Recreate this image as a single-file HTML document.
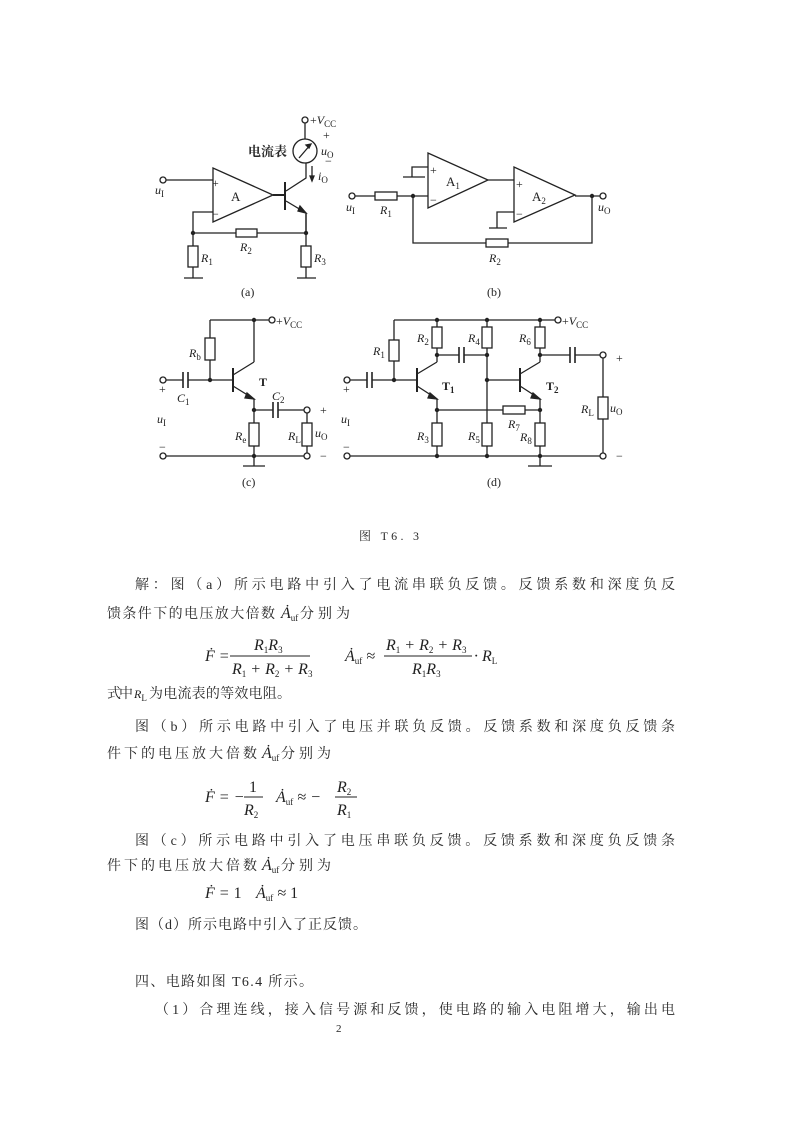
<!DOCTYPE html>
<html><head><meta charset="utf-8"><style>
html,body{margin:0;padding:0;background:#fff}
svg{display:block}
.t{font-family:"Liberation Serif","Noto Serif CJK SC","Noto Sans CJK SC",serif;font-size:14px;fill:#2a2a2a}
.m{font-family:"Liberation Serif",serif;font-style:italic;font-size:16px;fill:#222}
.l{font-family:"Liberation Serif",serif;font-style:italic;font-size:12px;fill:#222}
.s{font-family:"Liberation Serif",serif;font-style:normal;font-size:9px;fill:#222;baseline-shift:-3px}
.n{font-family:"Liberation Serif",serif;font-size:12px;fill:#222}
</style></head><body>
<svg width="794" height="1122" viewBox="0 0 794 1122" xmlns="http://www.w3.org/2000/svg">
<g stroke="#222" stroke-width="1.3" fill="none">
<!-- (a) -->
<circle cx="163" cy="180" r="3" fill="#fff"/>
<path d="M166 180H213"/>
<path d="M213 168V222L273 195Z"/>
<path d="M213 212H193V278M193 233H306M306 214V278"/>
<rect x="236" y="229" width="21" height="8" fill="#fff"/>
<rect x="188" y="246" width="10" height="21" fill="#fff"/>
<rect x="301" y="246" width="10" height="21" fill="#fff"/>
<path d="M184 278H203M297 278H316"/>
<path d="M273 195H285M285 182V210" stroke-width="2"/>
<path d="M286 191L306 178V163M286 201L306 213V233"/>
<path d="M300 206L306 213L298 211Z" fill="#222"/>
<circle cx="305" cy="151" r="12"/>
<path d="M305 139V123M299 158L311 144"/>
<path d="M311 144l-5 1 3 3z" fill="#222"/>
<circle cx="305" cy="120" r="3" fill="#fff"/>
<path d="M312 166V180"/><path d="M310 176l2 5 2-5z" fill="#222"/>
<!-- (b) -->
<circle cx="352" cy="196" r="3" fill="#fff"/>
<path d="M355 196H428M413 196V243H592V196M575 196H600"/>
<rect x="375" y="192" width="22" height="8" fill="#fff"/>
<rect x="486" y="239" width="22" height="8" fill="#fff"/>
<path d="M428 153V208L488 180Z"/>
<path d="M514 167V222L575 195Z"/>
<path d="M488 180H514M428 167H412V177M403 177H425M514 212H497V228M489 228H507"/>
<circle cx="603" cy="196" r="3" fill="#fff"/>
<!-- (c) -->
<path d="M210 320H269M210 320V380M166 380H183M188 380H233M254 320V362M233 375L254 362M233 386L254 399V456M254 410H273M278 410H304M307 413V453M166 456H304M243 466H265M254 456V466"/>
<path d="M183 372V388M188 372V388M273 402V418M278 402V418" stroke-width="1.6"/>
<path d="M233 368V392" stroke-width="2"/>
<path d="M247 393l7 6-9-1z" fill="#222"/>
<rect x="205" y="338" width="10" height="22" fill="#fff"/>
<rect x="249" y="423" width="10" height="23" fill="#fff"/>
<rect x="302" y="423" width="10" height="23" fill="#fff"/>
<circle cx="272" cy="320" r="3" fill="#fff"/>
<circle cx="163" cy="380" r="3" fill="#fff"/>
<circle cx="307" cy="410" r="3" fill="#fff"/>
<circle cx="163" cy="456" r="3" fill="#fff"/>
<circle cx="307" cy="456" r="3" fill="#fff"/>
<!-- (d) -->
<path d="M394 320H555M394 320V380M350 380H367M372 380H417M437 320V362M487 320V456M540 320V362M437 355H459M464 355H487M540 355H570M575 355H600M603 358V453M417 374L437 362M417 386L437 399V456M437 410H540M487 380H520M520 374L540 362M520 386L540 399V456M350 456H600M528 466H552M540 456V466"/>
<path d="M367 372V388M372 372V388M459 347V363M464 347V363M570 347V363M575 347V363" stroke-width="1.6"/>
<path d="M417 368V392M520 368V392" stroke-width="2"/>
<path d="M430 393l7 6-9-1zM533 393l7 6-9-1z" fill="#222"/>
<rect x="389" y="340" width="10" height="21" fill="#fff"/>
<rect x="432" y="327" width="10" height="21" fill="#fff"/>
<rect x="482" y="327" width="10" height="21" fill="#fff"/>
<rect x="535" y="327" width="10" height="21" fill="#fff"/>
<rect x="503" y="406" width="22" height="8" fill="#fff"/>
<rect x="432" y="423" width="10" height="23" fill="#fff"/>
<rect x="482" y="423" width="10" height="23" fill="#fff"/>
<rect x="535" y="423" width="10" height="23" fill="#fff"/>
<rect x="598" y="397" width="10" height="22" fill="#fff"/>
<circle cx="558" cy="320" r="3" fill="#fff"/>
<circle cx="347" cy="380" r="3" fill="#fff"/>
<circle cx="347" cy="456" r="3" fill="#fff"/>
<circle cx="603" cy="355" r="3" fill="#fff"/>
<circle cx="603" cy="456" r="3" fill="#fff"/>
<!-- fraction lines -->
<path d="M230 656H310M384 656H472M244 797H263M335 797H357" stroke-width="1"/>
</g>
<g fill="#222">
<circle cx="193" cy="233" r="2.2"/><circle cx="306" cy="233" r="2.2"/>
<circle cx="413" cy="196" r="2.2"/><circle cx="592" cy="196" r="2.2"/>
<circle cx="254" cy="320" r="2.2"/><circle cx="210" cy="380" r="2.2"/><circle cx="254" cy="410" r="2.2"/><circle cx="254" cy="456" r="2.2"/>
<circle cx="437" cy="320" r="2.2"/><circle cx="487" cy="320" r="2.2"/><circle cx="540" cy="320" r="2.2"/>
<circle cx="394" cy="380" r="2.2"/><circle cx="437" cy="355" r="2.2"/><circle cx="487" cy="355" r="2.2"/><circle cx="540" cy="355" r="2.2"/>
<circle cx="487" cy="380" r="2.2"/><circle cx="437" cy="410" r="2.2"/><circle cx="540" cy="410" r="2.2"/>
<circle cx="437" cy="456" r="2.2"/><circle cx="487" cy="456" r="2.2"/><circle cx="540" cy="456" r="2.2"/>
</g>
<!-- circuit labels -->
<text class="t" x="248" y="156" style="font-weight:bold;font-size:13px">电流表</text>
<text class="n" x="310" y="124">+<tspan class="l">V</tspan><tspan class="s">CC</tspan></text>
<text class="n" x="323" y="139">+</text><text class="l" x="321" y="155">u<tspan class="s">O</tspan></text><text class="n" x="325" y="165">−</text>
<text class="l" x="318" y="180">i<tspan class="s">O</tspan></text>
<text class="n" x="212" y="187">+</text><text class="n" x="212" y="218">−</text>
<text class="n" x="231" y="201" style="font-size:13px">A</text>
<text class="l" x="155" y="194">u<tspan class="s">I</tspan></text>
<text class="l" x="240" y="251">R<tspan class="s">2</tspan></text>
<text class="l" x="201" y="262">R<tspan class="s">1</tspan></text>
<text class="l" x="314" y="262">R<tspan class="s">3</tspan></text>
<text class="n" x="241" y="296">(a)</text>
<text class="n" x="430" y="174">+</text><text class="n" x="430" y="204">−</text>
<text class="n" x="446" y="186" style="font-size:13px">A<tspan class="s">1</tspan></text>
<text class="n" x="516" y="188">+</text><text class="n" x="516" y="218">−</text>
<text class="n" x="532" y="201" style="font-size:13px">A<tspan class="s">2</tspan></text>
<text class="l" x="346" y="211">u<tspan class="s">I</tspan></text>
<text class="l" x="380" y="214">R<tspan class="s">1</tspan></text>
<text class="l" x="489" y="262">R<tspan class="s">2</tspan></text>
<text class="l" x="598" y="211">u<tspan class="s">O</tspan></text>
<text class="n" x="487" y="296">(b)</text>
<text class="n" x="276" y="325">+<tspan class="l">V</tspan><tspan class="s">CC</tspan></text>
<text class="l" x="189" y="357">R<tspan class="s">b</tspan></text>
<text class="n" x="159" y="393">+</text>
<text class="l" x="177" y="402">C<tspan class="s">1</tspan></text>
<text class="n" x="259" y="386" style="font-weight:bold">T</text>
<text class="l" x="272" y="400">C<tspan class="s">2</tspan></text>
<text class="l" x="157" y="423">u<tspan class="s">I</tspan></text>
<text class="l" x="235" y="440">R<tspan class="s">e</tspan></text>
<text class="l" x="288" y="440">R<tspan class="s">L</tspan></text>
<text class="l" x="315" y="437">u<tspan class="s">O</tspan></text>
<text class="n" x="320" y="414">+</text><text class="n" x="320" y="460">−</text>
<text class="n" x="159" y="451">−</text>
<text class="n" x="242" y="486">(c)</text>
<text class="n" x="562" y="325">+<tspan class="l">V</tspan><tspan class="s">CC</tspan></text>
<text class="l" x="373" y="355">R<tspan class="s">1</tspan></text>
<text class="l" x="417" y="342">R<tspan class="s">2</tspan></text>
<text class="l" x="468" y="342">R<tspan class="s">4</tspan></text>
<text class="l" x="519" y="342">R<tspan class="s">6</tspan></text>
<text class="n" x="343" y="393">+</text>
<text class="n" x="442" y="390" style="font-weight:bold">T<tspan class="s">1</tspan></text>
<text class="n" x="546" y="390" style="font-weight:bold">T<tspan class="s">2</tspan></text>
<text class="l" x="341" y="423">u<tspan class="s">I</tspan></text>
<text class="l" x="417" y="440">R<tspan class="s">3</tspan></text>
<text class="l" x="468" y="440">R<tspan class="s">5</tspan></text>
<text class="l" x="508" y="428">R<tspan class="s">7</tspan></text>
<text class="l" x="520" y="441">R<tspan class="s">8</tspan></text>
<text class="l" x="581" y="413">R<tspan class="s">L</tspan></text>
<text class="l" x="610" y="412">u<tspan class="s">O</tspan></text>
<text class="n" x="616" y="362">+</text><text class="n" x="616" y="460">−</text>
<text class="n" x="343" y="451">−</text>
<text class="n" x="487" y="486">(d)</text>
<!-- body text -->
<text class="t" x="359" y="540" style="font-size:12px" textLength="60" lengthAdjust="spacing">图 T6. 3</text>
<text class="t" x="135" y="589" textLength="540" lengthAdjust="spacing">解：图（a）所示电路中引入了电流串联负反馈。反馈系数和深度负反</text>
<text class="t" x="107" y="618" textLength="168" lengthAdjust="spacing">馈条件下的电压放大倍数</text>
<text class="m" x="281" y="618">Ȧ<tspan class="s">uf</tspan></text>
<text class="t" x="300" y="618" textLength="50" lengthAdjust="spacing">分别为</text>
<text class="m" x="205" y="661">Ḟ =</text>
<text class="m" x="254" y="650">R<tspan class="s">1</tspan>R<tspan class="s">3</tspan></text>
<text class="m" x="232" y="674">R<tspan class="s">1</tspan> + R<tspan class="s">2</tspan> + R<tspan class="s">3</tspan></text>
<text class="m" x="345" y="661">Ȧ<tspan class="s">uf</tspan> ≈</text>
<text class="m" x="386" y="650">R<tspan class="s">1</tspan> + R<tspan class="s">2</tspan> + R<tspan class="s">3</tspan></text>
<text class="m" x="412" y="674">R<tspan class="s">1</tspan>R<tspan class="s">3</tspan></text>
<text class="m" x="474" y="661">· R<tspan class="s">L</tspan></text>
<text class="t" x="107" y="698" textLength="26" lengthAdjust="spacing">式中</text>
<text class="l" x="134" y="698">R<tspan class="s">L</tspan></text>
<text class="t" x="149" y="698" textLength="142" lengthAdjust="spacing">为电流表的等效电阻。</text>
<text class="t" x="135" y="731" textLength="540" lengthAdjust="spacing">图（b）所示电路中引入了电压并联负反馈。反馈系数和深度负反馈条</text>
<text class="t" x="107" y="758" textLength="150" lengthAdjust="spacing">件下的电压放大倍数</text>
<text class="m" x="262" y="758">Ȧ<tspan class="s">uf</tspan></text>
<text class="t" x="281" y="758" textLength="50" lengthAdjust="spacing">分别为</text>
<text class="m" x="205" y="802">Ḟ = −</text>
<text class="m" x="249" y="792" style="font-style:normal">1</text>
<text class="m" x="244" y="815">R<tspan class="s">2</tspan></text>
<text class="m" x="276" y="802">Ȧ<tspan class="s">uf</tspan> ≈ −</text>
<text class="m" x="337" y="792">R<tspan class="s">2</tspan></text>
<text class="m" x="337" y="815">R<tspan class="s">1</tspan></text>
<text class="t" x="135" y="845" textLength="540" lengthAdjust="spacing">图（c）所示电路中引入了电压串联负反馈。反馈系数和深度负反馈条</text>
<text class="t" x="107" y="870" textLength="150" lengthAdjust="spacing">件下的电压放大倍数</text>
<text class="m" x="262" y="870">Ȧ<tspan class="s">uf</tspan></text>
<text class="t" x="281" y="870" textLength="50" lengthAdjust="spacing">分别为</text>
<text class="m" x="205" y="898">Ḟ = <tspan style="font-style:normal">1</tspan></text>
<text class="m" x="256" y="898">Ȧ<tspan class="s">uf</tspan> ≈ <tspan style="font-style:normal">1</tspan></text>
<text class="t" x="135" y="929" textLength="232" lengthAdjust="spacing">图（d）所示电路中引入了正反馈。</text>
<text class="t" x="135" y="986" textLength="178" lengthAdjust="spacing">四、电路如图 T6.4 所示。</text>
<text class="t" x="155" y="1014" textLength="520" lengthAdjust="spacing">（1）合理连线，接入信号源和反馈，使电路的输入电阻增大，输出电</text>
<text class="n" x="336" y="1032" style="font-size:11px">2</text>
</svg>
</body></html>
